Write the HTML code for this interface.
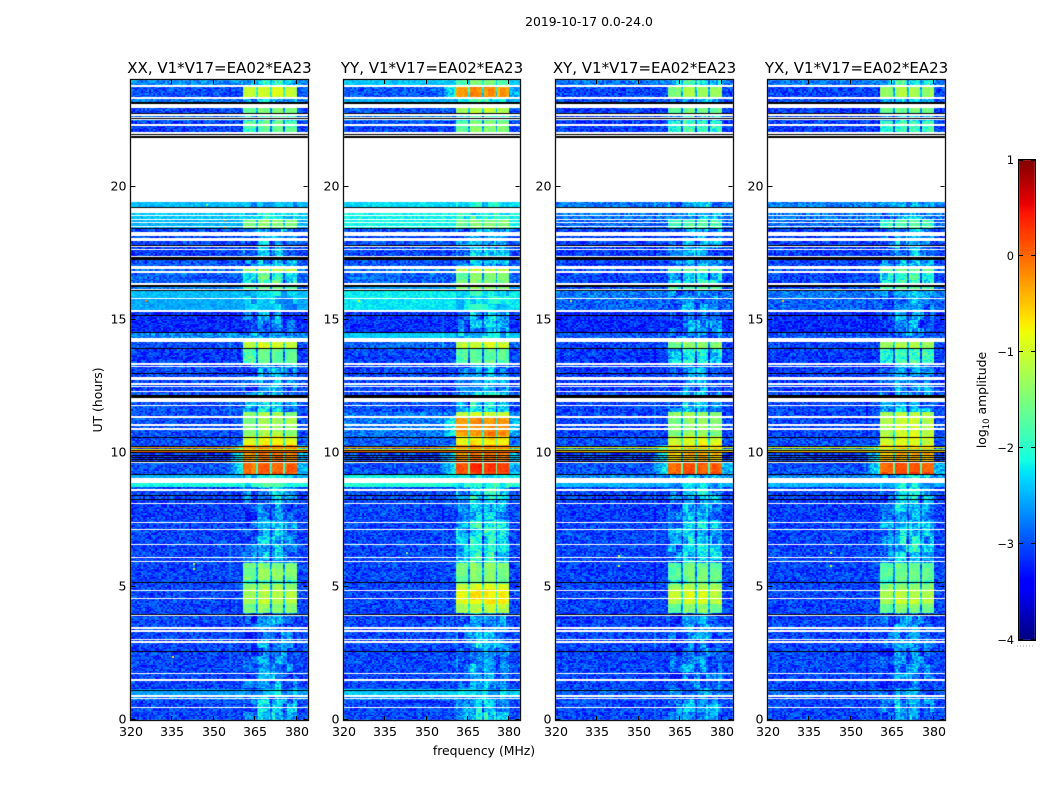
<!DOCTYPE html>
<html>
<head>
<meta charset="utf-8">
<title>2019-10-17 amplitude waterfall</title>
<style>
html,body{margin:0;padding:0;background:#fff;}
#stage{position:relative;width:1050px;height:800px;overflow:hidden;background:#fff;}
#stage canvas,#stage svg{position:absolute;left:0;top:0;}
text{font-family:"DejaVu Sans","Liberation Sans",sans-serif;fill:#000;}
</style>
</head>
<body>
<div id="stage">
<canvas id="heat" width="1050" height="800"></canvas>
<svg id="axes" width="1050" height="800" viewBox="0 0 1050 800">
<text x="589" y="26" font-size="12.4" text-anchor="middle">2019-10-17 0.0-24.0</text>
<text x="484" y="755" font-size="12.4" text-anchor="middle">frequency (MHz)</text>
<text x="0" y="0" font-size="12.4" text-anchor="middle" transform="translate(102 400) rotate(-90)">UT (hours)</text>
<text x="0" y="0" font-size="12.4" text-anchor="middle" transform="translate(986 400) rotate(-90)">log<tspan font-size="8.5" dy="3">10</tspan><tspan dy="-3"> amplitude</tspan></text>
</svg>
</div>
<script>
/* ---- axis values ---- */
var xTickValues = [320, 335, 350, 365, 380];
var yTickValues = [0, 5, 10, 15, 20];
var colorTickValues = [-4, -3, -2, -1, 0, 1];
var panelNames = ['XX', 'YY', 'XY', 'YX'];

/* ---- time segments: lower UT edge of each segment, latest first ---- */
var segmentBottomUT = [
 23.78,23.33,22.95,22.76,22.43,22.05,
 19.43,19.2,19.0,18.79,18.41,
 17.78,17.25,16.9,16.8,16.35,16.09,
 15.79,15.3,14.51,14.18,13.91,13.39,
 12.26,11.55,11.4,10.65,10.31,9.68,
 9.22,9.07,8.74,8.25,7.43,6.38,
 5.89,5.63,5.25,5.1,4.88,4.35,4.01,1.13,
 .9,.75,0];

/* ---- log10 amplitude of the off-band background and in-band signal ---- */
var bgXX = [
 -2.7,-3.0,-2.8,-3.05,-2.9,-3.1,
 -3.1,-2.45,-2.4,-2.4,-2.5,
 -3.05,-3.1,-3.0,-2.9,-2.9,-2.8,
 -2.45,-2.55,-3.2,-2.7,-3.0,-3.1,
 -3.05,-3.0,-3.0,-3.0,-3.0,-3.1,
 -3.0,-2.5,-2.1,-3.05,-3.1,-3.05,
 -3.05,-3.05,-3.05,-3.05,-3.05,-3.05,-3.05,-3.05,
 -2.6,-2.8,-3.05];
var bandXX = [
 -2.3,-1.0,-2.5,-1.5,-2.0,-1.7,
 -3,-2.45,-2.5,-2.3,-1.45,
 -2.7,-2.7,-2.6,-1.2,-2.0,-1.7,
 -2.5,-2.6,-2.8,-2.7,-1.05,-1.7,
 -2.7,-2.4,-1.3,-1.3,-.85,-.15,
 0,-2.4,-2.1,-2.6,-2.85,-2.6,
 -2.6,-1.5,-1.4,-1.9,-1.3,-1.15,-1.45,-2.85,
 -2.6,-2.8,-2.5];
var bgYY = [
 -2.4,-2.95,-2.5,-3.0,-2.8,-3.05,
 -3.05,-2.3,-2.15,-2.15,-2.15,
 -3.0,-3.05,-3.0,-2.8,-2.9,-2.6,
 -2.2,-2.25,-3.15,-2.4,-2.9,-3.05,
 -3.05,-3.0,-2.8,-2.8,-2.9,-3.0,
 -3.0,-2.2,-2.05,-3.0,-3.05,-3.05,
 -3.05,-3.05,-3.05,-3.05,-3.05,-3.05,-3.05,-3.05,
 -2.4,-2.7,-3.05];
var bandYY = [
 -1.6,-.25,-2.2,-1.1,-1.9,-1.5,
 -3,-2.2,-2.05,-2.1,-1.5,
 -2.6,-2.6,-2.5,-1.0,-1.5,-1.4,
 -2.2,-2.2,-2.6,-2.4,-1.0,-1.7,
 -2.6,-2.2,-1.0,-.2,-.7,-.05,
 .2,-2.2,-2.0,-2.2,-2.5,-2.2,
 -2.2,-1.45,-1.5,-1.6,-1.0,-.75,-1.15,-2.65,
 -2.4,-2.5,-2.4];
var bgXY = [
 -2.8,-3.05,-3.0,-3.1,-3.05,-3.1,
 -3.1,-2.8,-2.8,-2.8,-2.9,
 -3.1,-3.1,-3.05,-3.0,-3.05,-3.0,
 -2.8,-2.9,-3.2,-2.95,-3.05,-3.1,
 -3.1,-3.05,-3.05,-3.05,-3.0,-3.05,
 -3.0,-2.7,-2.5,-3.05,-3.1,-3.05,
 -3.05,-3.05,-3.05,-3.05,-3.05,-3.05,-3.05,-3.05,
 -2.9,-3.0,-3.05];
var bandXY = [
 -2.1,-1.3,-2.5,-1.6,-2.3,-1.9,
 -3,-2.75,-2.75,-2.6,-1.8,
 -2.7,-2.7,-2.6,-1.6,-2.1,-1.8,
 -2.75,-2.8,-2.75,-2.8,-1.4,-2.1,
 -2.7,-2.55,-1.3,-1.45,-.95,-.45,
 .1,-2.5,-2.4,-2.45,-2.6,-2.4,
 -2.4,-1.6,-1.6,-1.95,-1.3,-1.05,-1.5,-2.85,
 -2.8,-2.85,-2.6];
var bgYX = [
 -2.8,-3.05,-3.0,-3.1,-3.05,-3.1,
 -3.1,-2.75,-2.8,-2.8,-2.9,
 -3.1,-3.1,-3.05,-3.0,-3.05,-3.0,
 -2.8,-2.9,-3.2,-2.95,-3.05,-3.1,
 -3.1,-3.05,-3.05,-3.05,-3.0,-3.05,
 -3.0,-2.7,-2.5,-3.05,-3.1,-3.05,
 -3.05,-3.05,-3.05,-3.05,-3.05,-3.05,-3.05,-3.05,
 -2.9,-3.0,-3.05];
var bandYX = [
 -2.1,-1.3,-2.5,-1.6,-2.3,-1.9,
 -3,-2.7,-2.75,-2.6,-1.8,
 -2.7,-2.7,-2.6,-1.6,-2.0,-1.8,
 -2.75,-2.8,-2.75,-2.8,-1.2,-1.9,
 -2.7,-2.55,-1.2,-1.05,-.95,-.45,
 .15,-2.5,-2.4,-2.45,-2.6,-2.4,
 -2.4,-1.6,-1.6,-1.9,-1.4,-1.15,-1.55,-2.85,
 -2.8,-2.85,-2.6];

/* ---- four spectral sub-bands, MHz ---- */
var subbandStartMHz = [360.6, 365.9, 370.9, 375.8];
var subbandEndMHz = [365.1, 370.3, 375.1, 379.9];
var subbandOffsets = [-0.12, 0.04, 0.05, -0.04];

/* ---- flagged (blank) and zero-valued (black) time ranges: [later UT, earlier UT] ---- */
var blankUT = [
 [23.81,23.74],[23.344,23.306],[23.1,22.95],[22.725,22.65],[22.62,22.575],[22.54,22.5],[22.35,22.275],
 [22.05,21.99],[21.94,21.9],[21.825,19.425],[19.2,19.01],[18.94,18.9],[18.79,18.75],[18.675,18.64],[18.525,18.49],
 [18.3,18.15],[18.075,17.96],[17.76,17.72],[17.68,17.64],[17.4,17.36],[17.025,16.91],[16.84,16.76],[16.39,16.31],
 [16.16,16.125],[15.825,15.79],[15.375,15.3],[14.325,14.175],[13.37,13.33],[13.29,13.26],[12.86,12.75],[12.62,12.56],
 [12.525,12.47],[12.34,12.3],[12.075,11.925],[11.81,11.775],[11.4,11.325],[11.1,11.025],[10.95,10.89],[9.675,9.62],
 [9.075,8.89],[8.66,8.59],[8.14,8.1],[7.425,7.39],[7.16,7.125],[6.6,6.56],[6.11,6.075],[5.96,5.925],[4.875,4.84],
 [4.575,4.54],[3.956,3.92],[3.47,3.41],[3.375,3.3],[3.056,3.0],[2.944,2.89],[1.76,1.725],[1.54,1.48],[.92,.86],
 [.825,.79],[.49,.45]];
var blackUT = [
 [23.175,23.1],[22.78,22.725],[22.575,22.54],[21.99,21.94],[21.9,21.825],[19.24,19.2],[18.45,18.41],[17.81,17.775],
 [17.36,17.25],[16.31,16.24],[16.125,16.09],[15.19,15.15],[14.55,14.51],[13.95,13.91],[13.01,12.975],[12.19,12.13],
 [12.11,12.075],[10.63,10.59],[10.29,10.26],[10.14,10.11],[10.05,10.01],[9.956,9.92],[9.88,9.845],[9.8,9.77],[9.73,9.69],[9.225,9.17],
 [8.44,8.4],[8.29,8.25],[5.175,5.14],[3.99,3.956],[2.59,2.55],[1.125,1.09]];

/* ---- broadband bursts across all channels ---- */
var burstUT = [10.24, 10.18, 10.09];
var burstLevel = [-0.3, -0.8, 0.0];

/* ---- isolated interference samples ---- */
var rfiPanel = [0,0,0,0,0,0,0,0,1,1,2,2,2,3,3,3,3];
var rfiFreq = [342.5,342.5,335,325,326,353.7,353.7,347,325,342.5,342.5,342.5,325,342.5,342.5,325,326];
var rfiUt = [5.9,5.7,2.4,15.75,13.4,18.8,18.5,19.35,15.75,6.3,6.2,5.8,15.75,6.3,5.8,15.75,13.4];
var rfiLevel = [-1.1,-1.2,-.7,-.1,-1.4,-.2,-.1,-1.4,-.8,-1.4,-1.1,-.9,-1.2,-1.1,-.9,-.5,-1.2];

/* ---- hand-picked sample scatter about each level ---- */
var grain = [
 .12,-.21,.3,-.05,-.28,.18,.07,-.14,.26,-.31,.02,.22,-.19,.09,-.26,.33,-.08,.15,-.23,.04,
 .28,-.12,-.33,.19,.06,-.17,.24,-.02,-.29,.11,.35,-.24,.01,.17,-.1,-.27,.21,.08,-.36,.14,
 -.04,.29,-.2,.1,-.15,.25,-.3,.03,.2,-.09,-.25,.32,-.13,.05,.16,-.34,.23,-.01,-.18,.27,
 -.07,.13,-.22,.36,-.11,-.28,.09,.19,-.16,.31,-.03,-.24,.12,.26,-.32,.06,-.06,.17,-.2,.22,
 .38,-.26,.0,.1,-.37,.24,-.14,.15,.04,-.19,.3,-.09,-.23,.07,.2,-.3,.11];

/* ---- scales ---- */
var FREQ_MIN = 320, FREQ_MAX = 384, UT_MAX = 24;
var TOP = 80, BOTTOM = 720;
var panelBoxes = [[131,308],[344,520],[556,733],[768,945]];
var panelBg = [bgXX, bgYY, bgXY, bgYX];
var panelBand = [bandXX, bandYY, bandXY, bandYX];
function yOf(ut){ return BOTTOM - (ut / UT_MAX) * (BOTTOM - TOP); }
function xOf(p, f){ var b = panelBoxes[p]; return b[0] + (f - FREQ_MIN) / (FREQ_MAX - FREQ_MIN) * (b[1] - b[0]); }
function jetPart(t, pts){
  for (var i = 1; i < pts.length; i++) {
    if (t <= pts[i][0]) {
      var a = pts[i-1], b = pts[i];
      return a[1] + (b[1]-a[1]) * (t-a[0]) / ((b[0]-a[0]) || 1);
    }
  }
  return pts[pts.length-1][1];
}
function jet(v){
  var t = Math.max(0, Math.min(1, (v + 4) / 5));
  var r = jetPart(t, [[0,0],[.35,0],[.66,1],[.89,1],[1,.5]]);
  var g = jetPart(t, [[0,0],[.125,0],[.375,1],[.64,1],[.91,0],[1,0]]);
  var b = jetPart(t, [[0,.5],[.11,1],[.34,1],[.65,0],[1,0]]);
  return 'rgb(' + Math.round(r*255) + ',' + Math.round(g*255) + ',' + Math.round(b*255) + ')';
}
function segmentAt(ut){
  for (var i = 0; i < segmentBottomUT.length; i++) { if (ut >= segmentBottomUT[i]) return i; }
  return segmentBottomUT.length - 1;
}
/* returns level and whether the sample sits in a weak, patchy part of the band */
function levelAt(p, s, f){
  var bg = panelBg[p][s], band = panelBand[p][s], v = bg;
  var weak = band < -1.9;
  if (f >= subbandStartMHz[0] && f <= subbandEndMHz[3]) {
    var inGap = true;
    for (var k = 0; k < 4; k++) {
      if (f >= subbandStartMHz[k] && f <= subbandEndMHz[k]) {
        v = Math.max(bg, band + subbandOffsets[k] * (weak ? 2.5 : 1));
        inGap = false;
      }
    }
    if (inGap) v = Math.max(bg + 0.1, band - (band > -0.5 ? 1.9 : 1.1));
  } else if (band > -0.6 && f < subbandStartMHz[0] && f > 354) {
    v = bg + (-2.1 - bg) * ((f - 354) / (subbandStartMHz[0] - 354));
  } else if (band > -0.3 && f > subbandEndMHz[3]) {
    v = Math.max(bg, -2.5);
  }
  return v;
}

/* ---- heatmap ---- */
var ctx = document.getElementById('heat').getContext('2d');
var STEP = 0.05;
var colorCache = {};
function colorOf(v){
  var q = Math.round(v * 50);
  if (!colorCache[q]) colorCache[q] = jet(q / 50);
  return colorCache[q];
}
panelNames.forEach(function(name, p){
  var nRows = Math.round(UT_MAX / STEP);
  var x0 = panelBoxes[p][0], right = panelBoxes[p][1], w = right - x0;
  var pxPerMHz = w / (FREQ_MAX - FREQ_MIN);
  for (var r = 0; r < nRows; r++) {
    var ut = r * STEP;
    var s = segmentAt(ut + STEP / 2);
    var y0 = Math.round(yOf(ut + STEP)), y1 = Math.round(yOf(ut));
    var bgVal = panelBg[p][s], bandVal = panelBand[p][s];
    for (var px = 0; px < w; px++) {
      var f = FREQ_MIN + (px + 0.5) / pxPerMHz;
      var v = levelAt(p, s, f);
      var c = Math.floor(px / 2);
      var g = grain[(c * 37 + r * 101 + (c * r) % 53 + p * 11) % grain.length];
      var amp = v > -1.8 ? 0.3 : (bgVal > -2.7 && v < bgVal + 0.4 ? 0.5 : 1);
      v += amp * g;
      if (f >= subbandStartMHz[0] && f <= subbandEndMHz[3]) {
        var pc = Math.floor(px / 6), pr = Math.floor(r / 6);
        var patch = grain[(pc * 13 + pr * 29 + (pc * pr) % 17 + p * 7) % grain.length];
        v += patch * (bandVal < -1.9 ? 1.0 : 0.4);
      }
      ctx.fillStyle = colorOf(v);
      ctx.fillRect(x0 + px, y0, 1, y1 - y0);
    }
  }
  burstUT.forEach(function(ut, i){
    var amp = burstLevel[i] - (p >= 2 ? 0.5 : 0);
    ctx.fillStyle = jet(amp);
    ctx.fillRect(x0, Math.round(yOf(ut)), w, 1);
  });
  rfiPanel.forEach(function(pp, i){
    if (pp !== p) return;
    ctx.fillStyle = jet(rfiLevel[i]);
    ctx.fillRect(Math.round(xOf(p, rfiFreq[i])), Math.round(yOf(rfiUt[i])), 2, 2);
  });
  ctx.fillStyle = '#fff';
  blankUT.forEach(function(b){
    var a = Math.round(yOf(b[0]));
    ctx.fillRect(x0, a, w, Math.max(1, Math.round(yOf(b[1])) - a));
  });
  ctx.fillStyle = '#000';
  blackUT.forEach(function(b){
    var a = Math.round(yOf(b[0]));
    ctx.fillRect(x0, a, w, Math.max(1, Math.round(yOf(b[1])) - a));
  });
});

/* ---- colorbar ---- */
var CB_X0 = 1019, CB_X1 = 1035, CB_TOP = 160, CB_BOTTOM = 640;
function cbY(v){ return CB_BOTTOM - (v + 4) / 5 * (CB_BOTTOM - CB_TOP); }
for (var py = CB_TOP; py < CB_BOTTOM; py++) {
  ctx.fillStyle = jet(-4 + (CB_BOTTOM - py - 0.5) / (CB_BOTTOM - CB_TOP) * 5);
  ctx.fillRect(CB_X0, py, CB_X1 - CB_X0, 1);
}

/* ---- axes ---- */
var NS = 'http://www.w3.org/2000/svg';
var svg = document.getElementById('axes');
function line(x1, y1, x2, y2, col){
  var l = document.createElementNS(NS, 'line');
  l.setAttribute('x1', x1); l.setAttribute('y1', y1);
  l.setAttribute('x2', x2); l.setAttribute('y2', y2);
  l.setAttribute('stroke', col || '#000');
  l.setAttribute('stroke-width', '1');
  svg.appendChild(l);
  return l;
}
function label(x, y, txt, anchor, size){
  var t = document.createElementNS(NS, 'text');
  t.setAttribute('x', x); t.setAttribute('y', y);
  t.setAttribute('text-anchor', anchor);
  t.setAttribute('font-size', size);
  t.textContent = txt;
  svg.appendChild(t);
  return t;
}
panelNames.forEach(function(name, p){
  var b = panelBoxes[p];
  var left = b[0] + 0.5, right = b[1] + 0.5;
  var frame = document.createElementNS(NS, 'rect');
  frame.setAttribute('x', left - 1);
  frame.setAttribute('y', TOP - 0.5);
  frame.setAttribute('width', right - left + 1);
  frame.setAttribute('height', BOTTOM - TOP + 1);
  frame.setAttribute('fill', 'none');
  frame.setAttribute('stroke', '#111');
  frame.setAttribute('stroke-width', '1.3');
  
  
  svg.appendChild(frame);

  var title = label((left + right) / 2 - 0.5, 73, name + ', V1*V17=EA02*EA23', 'middle', 15);
  
  

  xTickValues.forEach(function(v){
    var x = Math.round(xOf(p, v)) - 0.5;
    var t1 = line(x, BOTTOM, x, BOTTOM - 4);
    
    
    var t2 = line(x, TOP, x, TOP + 4);
    
    
    var tl = label(x + 0.5, 736, String(v), 'middle', 12.6);
    
    
  });
  yTickValues.forEach(function(v){
    var y = Math.round(yOf(v)) - 0.5;
    var t1 = line(left - 1, y, left + 4, y);
    
    
    var t2 = line(right - 5, y, right - 1, y);
    
    
    var tl = label(left - 5, y + 4, String(v), 'end', 12.6);
    
    
  });
});

var cbFrame = document.createElementNS(NS, 'rect');
cbFrame.setAttribute('x', CB_X0 - 0.5);
cbFrame.setAttribute('y', CB_TOP - 0.5);
cbFrame.setAttribute('width', CB_X1 - CB_X0 + 1);
cbFrame.setAttribute('height', CB_BOTTOM - CB_TOP + 1);
cbFrame.setAttribute('fill', 'none');
cbFrame.setAttribute('stroke', '#000');


svg.appendChild(cbFrame);
colorTickValues.forEach(function(v){
  var y = Math.round(cbY(v)) - (v === 1 ? -0.5 : 0.5);
  var a = line(CB_X0, y, CB_X0 + 4, y);
  
  
  var c = line(CB_X1 - 4, y, CB_X1, y);
  
  
  var tl = label(CB_X0 - 5, Math.round(cbY(v)) + 4, (v < 0 ? '\u2212' + (-v) : String(v)), 'end', 11.4);
  
  
});
var dots = line(1017, 646, 1035, 646, '#999');
dots.setAttribute('stroke-dasharray', '1 2');


</script>
</body>
</html>
